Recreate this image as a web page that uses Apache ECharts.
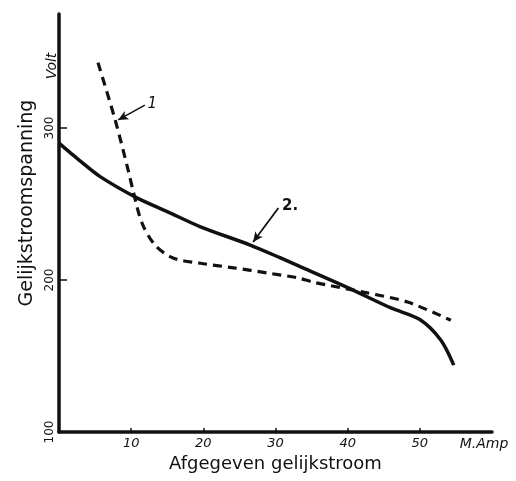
<!DOCTYPE html>
<html>
<head>
<meta charset="utf-8">
<script src="https://cdn.jsdelivr.net/npm/echarts@6/dist/echarts.min.js"></script>
<style>html,body{margin:0;padding:0;background:#fff}#c{width:516px;height:481px}</style>
</head>
<body>
<div id="c"></div>
<script>
// Curve 1 (dashed): [current mA, voltage V]
const curve1 = [[5.4,343],[7.8,305],[9.6,272],[10.3,258],[11.5,237.5],[13.3,223],[15.8,214.5],[19.6,211],[24.2,208],[28.9,204.6],[33,201.5],[35.3,198.5],[42.2,192],[48.3,185.5],[54.3,173.5]];
// Curve 2 (solid)
const curve2 = [[0,290],[1.5,284],[3,278],[5.7,268],[10.8,254],[15,245],[19.6,235],[26.5,223],[30.7,214.5],[33.5,208.6],[40,195],[46,181.6],[50,174],[52.9,160.5],[54.7,144]];
const xTickValues = [10,20,30,40,50];
const yTickValues = [100,200,300];
const arrow1 = [[11.9,315],[8.2,305.3]];
const arrow2 = [[30.4,247.4],[26.9,225]];

const ink = '#111';
const chart = echarts.init(document.getElementById('c'));
chart.setOption({
  backgroundColor: '#fff',
  animation: false,
  grid: {left: 59, top: 14, width: 433, height: 418},
  xAxis: {
    type: 'value', min: 0, max: 60, interval: 10,
    name: 'Afgegeven gelijkstroom', nameLocation: 'middle', nameGap: 22,
    nameTextStyle: {color: ink, fontSize: 18, fontFamily: 'DejaVu Sans'},
    axisLine: {show: true, lineStyle: {color: ink, width: 3.5}},
    axisTick: {show: true, inside: true, length: 4, customValues: xTickValues, lineStyle: {color: ink, width: 1.5}},
    axisLabel: {customValues: xTickValues, color: ink, fontSize: 13, fontStyle: 'italic', fontFamily: 'DejaVu Sans', margin: 5},
    splitLine: {show: false}
  },
  yAxis: {
    type: 'value', min: 100, max: 375, interval: 100,
    name: 'Gelijkstroomspanning', nameLocation: 'middle', nameGap: 22,
    nameTextStyle: {color: ink, fontSize: 19, fontFamily: 'DejaVu Sans', padding: [0,0,0,40]},
    axisLine: {show: true, lineStyle: {color: ink, width: 3.5}},
    axisTick: {show: true, inside: true, length: 8, customValues: yTickValues, lineStyle: {color: ink, width: 1.5}},
    axisLabel: {customValues: yTickValues, rotate: 90, color: ink, fontSize: 12, fontFamily: 'DejaVu Sans', margin: 3},
    splitLine: {show: false}
  },
  graphic: [
    {type: 'text', x: 52, y: 66, rotation: Math.PI/2,
     style: {text: 'Volt', fill: ink, font: 'italic 14px "DejaVu Sans"', textAlign: 'center', textVerticalAlign: 'middle'}},
    {type: 'text', x: 484, y: 444,
     style: {text: 'M.Amp', fill: ink, font: 'italic 14px "DejaVu Sans"', textAlign: 'center', textVerticalAlign: 'middle'}}
  ],
  series: [
    {
      name: '1', type: 'line', data: curve1, smooth: 0.3, showSymbol: false,
      lineStyle: {color: ink, width: 3.2, type: [9, 6]},
      markLine: {
        silent: true, symbol: ['none', 'arrow'], symbolSize: [7, 10],
        lineStyle: {color: ink, width: 1.5, type: 'solid'},
        label: {show: true, position: 'start', distance: 3, formatter: '1', color: ink, fontSize: 15, fontStyle: 'italic', fontFamily: 'DejaVu Sans'},
        data: [[{coord: arrow1[0]}, {coord: arrow1[1]}]]
      }
    },
    {
      name: '2', type: 'line', data: curve2, smooth: 0.3, showSymbol: false,
      lineStyle: {color: ink, width: 3.5},
      markLine: {
        silent: true, symbol: ['none', 'arrow'], symbolSize: [7, 10],
        lineStyle: {color: ink, width: 1.8, type: 'solid'},
        label: {show: true, position: 'start', distance: 3, offset: [10, 8], formatter: '2.', color: ink, fontSize: 15, fontWeight: 'bold', fontFamily: 'DejaVu Sans'},
        data: [[{coord: arrow2[0]}, {coord: arrow2[1]}]]
      }
    }
  ]
});
</script>
</body>
</html>
